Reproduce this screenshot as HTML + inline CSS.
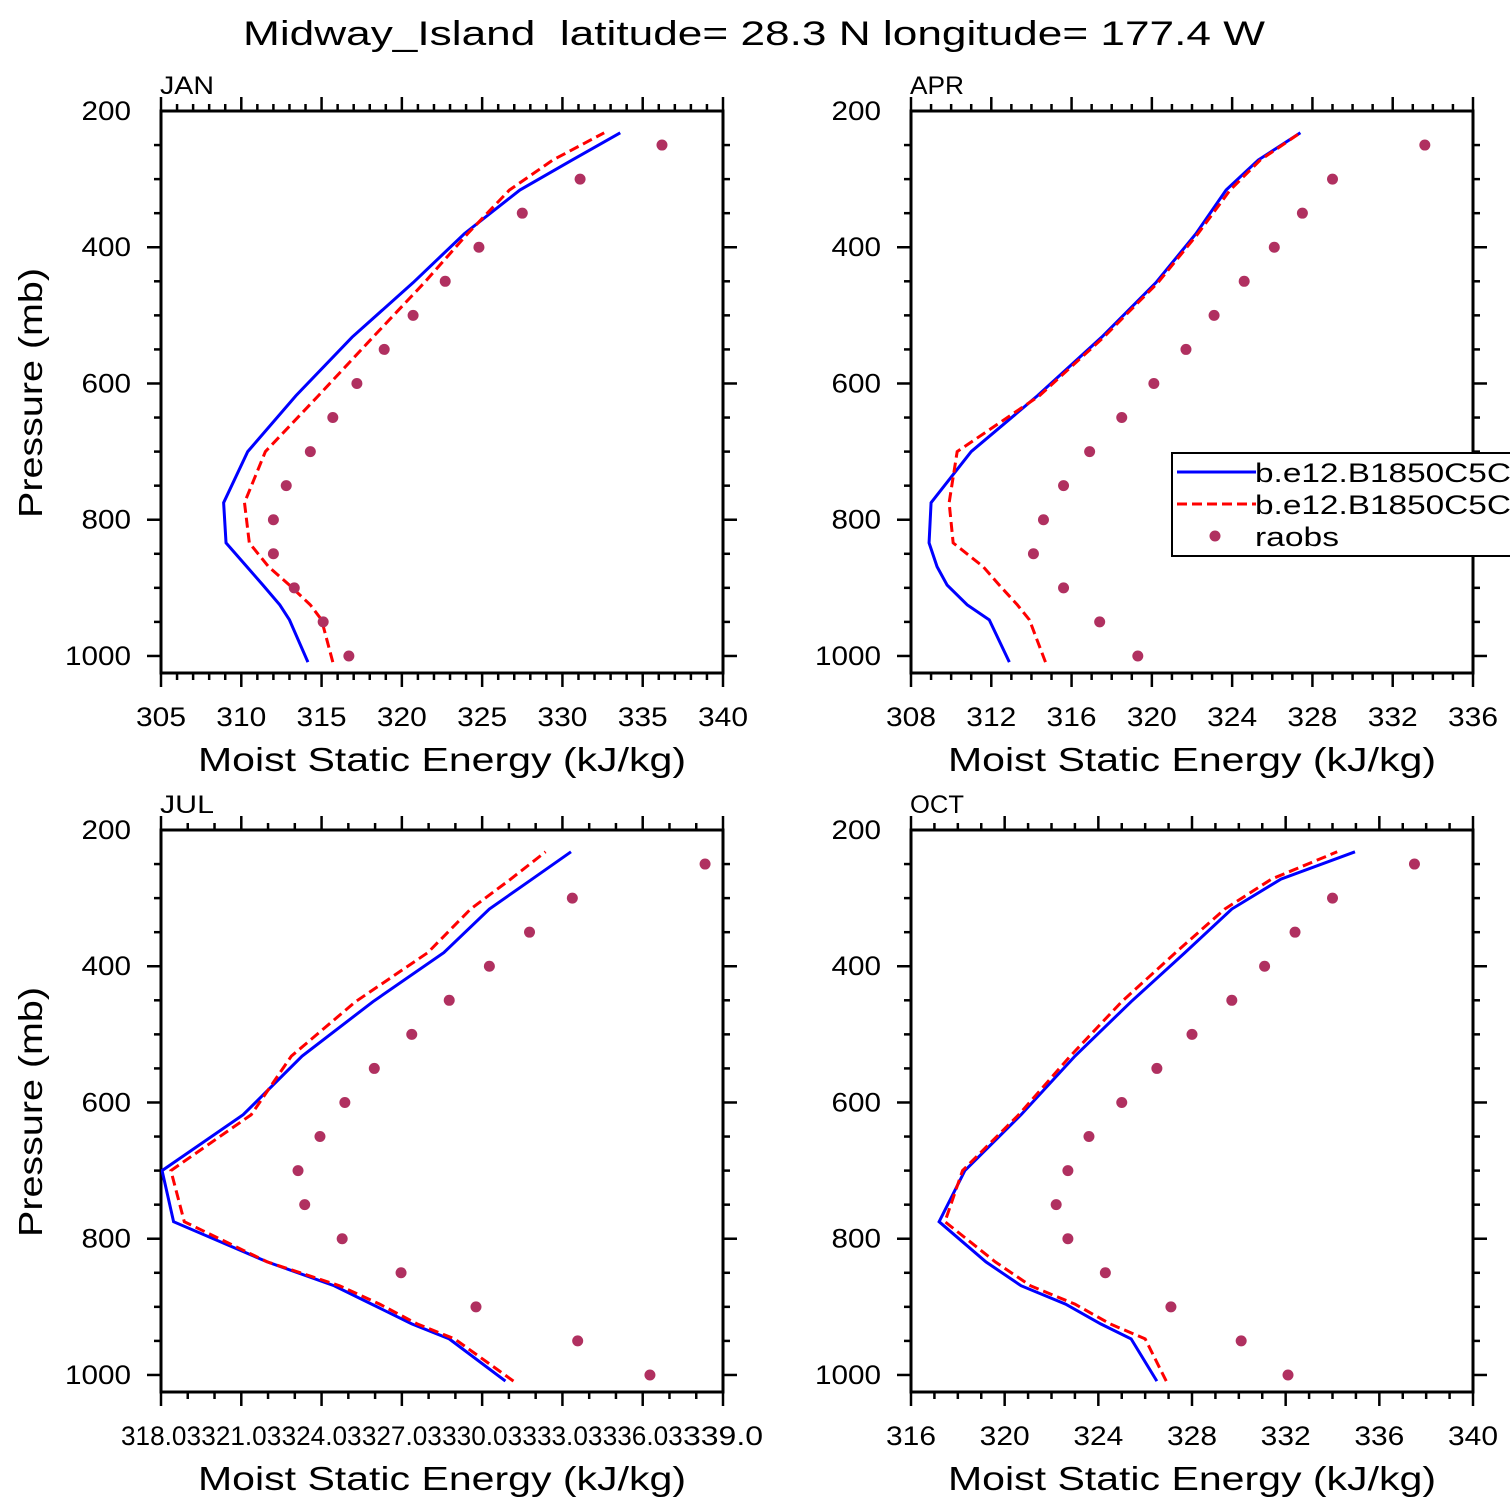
<!DOCTYPE html>
<html><head><meta charset="utf-8"><style>
html,body{margin:0;padding:0;background:#fff;}
svg{display:block;font-family:"Liberation Sans","DejaVu Sans",sans-serif;}
</style></head><body>
<svg id="chart" width="1510" height="1510" viewBox="0 0 1510 1510" xmlns="http://www.w3.org/2000/svg">
<text x="243" y="45" font-size="34" textLength="1022" lengthAdjust="spacingAndGlyphs" style="white-space:pre">Midway_Island  latitude= 28.3 N longitude= 177.4 W</text>
</svg>
<script>
// Model levels (mb)
const levels = [1009, 947, 925, 896, 869, 834, 775, 700, 618, 532, 452, 380, 316, 272, 232];
// Raob pressures (mb)
const raobP = [250, 300, 350, 400, 450, 500, 550, 600, 650, 700, 750, 800, 850, 900, 950, 1000];
const months = ["JAN", "APR", "JUL", "OCT"];
const janBlue = [314.15, 313.0, 312.4, 311.35, 310.35, 309.05, 308.9, 310.4, 313.4, 316.9, 320.7, 323.9, 327.35, 330.6, 333.6];
const janRed = [315.7, 315.0, 314.3, 313.0, 311.7, 310.5, 310.2, 311.5, 314.8, 318.2, 321.4, 324.1, 326.7, 329.4, 332.6];
const janRaob = [336.2, 331.1, 327.5, 324.8, 322.7, 320.7, 318.9, 317.2, 315.7, 314.3, 312.8, 312.0, 312.0, 313.3, 315.1, 316.7];
const aprBlue = [312.9, 311.9, 310.8, 309.8, 309.3, 308.9, 309.0, 311.0, 314.3, 317.5, 320.2, 322.2, 323.7, 325.3, 327.4];
const aprRed = [314.7, 313.9, 313.3, 312.4, 311.6, 310.1, 309.9, 310.3, 314.4, 317.6, 320.3, 322.3, 323.9, 325.4, 327.4];
const aprRaob = [333.6, 329.0, 327.5, 326.1, 324.6, 323.1, 321.7, 320.1, 318.5, 316.9, 315.6, 314.6, 314.1, 315.6, 317.4, 319.3];
const julBlue = [330.9, 328.8, 327.4, 325.9, 324.5, 322.0, 318.5, 318.07, 321.1, 323.3, 325.95, 328.6, 330.3, 331.9, 333.35];
const julRed = [331.2, 329.0, 327.6, 326.2, 324.7, 322.0, 318.9, 318.4, 321.4, 322.9, 325.3, 328.0, 329.6, 331.1, 332.4];
const julRaob = [338.36, 333.4, 331.8, 330.3, 328.8, 327.4, 326.0, 324.9, 323.97, 323.15, 323.4, 324.8, 327.0, 329.8, 333.6, 336.3];
const octBlue = [326.5, 325.4, 324.1, 322.6, 320.7, 319.2, 317.2, 318.3, 320.7, 323.0, 325.4, 327.7, 329.7, 331.8, 334.96];
const octRed = [326.9, 326.0, 324.5, 323.0, 321.1, 319.6, 317.45, 318.2, 320.6, 322.8, 325.0, 327.3, 329.4, 331.4, 334.2];
const octRaob = [337.5, 334.0, 332.4, 331.1, 329.7, 328.0, 326.5, 325.0, 323.6, 322.7, 322.2, 322.7, 324.3, 327.1, 330.1, 332.1];
const janTicks = ["305","310","315","320","325","330","335","340"];
const aprTicks = ["308","312","316","320","324","328","332","336"];
const julTicks = ["318.03","321.03","324.03","327.03","330.03","333.03","336.03","339.0"];
const octTicks = ["316","320","324","328","332","336","340"];
const pTicks = [200, 400, 600, 800, 1000];

const NS = "http://www.w3.org/2000/svg";
const svg = document.getElementById("chart");
function mk(tag, attrs, parent) {
  const e = document.createElementNS(NS, tag);
  for (const k in attrs) e.setAttribute(k, attrs[k]);
  (parent || svg).appendChild(e);
  return e;
}
const panels = [
  {m: "jan", x0: 161, y0: 111, xmin: 305, xmax: 340, major: 5, minor: 1, ticks: janTicks, blue: janBlue, red: janRed, raob: janRaob, lab: months[0], ylab: true},
  {m: "apr", x0: 911, y0: 111, xmin: 308, xmax: 336, major: 4, minor: 1, ticks: aprTicks, blue: aprBlue, red: aprRed, raob: aprRaob, lab: months[1], ylab: false},
  {m: "jul", x0: 161, y0: 830, xmin: 318.03, xmax: 339.03, major: 3, minor: 1, ticks: julTicks, blue: julBlue, red: julRed, raob: julRaob, lab: months[2], ylab: true},
  {m: "oct", x0: 911, y0: 830, xmin: 316, xmax: 340, major: 4, minor: 1, ticks: octTicks, blue: octBlue, red: octRed, raob: octRaob, lab: months[3], ylab: false}
];
const W = 562, H = 562, pmin = 200, pmax = 1025;
panels.forEach(P => {
  const g = mk("g", {});
  
  
  const xs = v => P.x0 + (v - P.xmin) / (P.xmax - P.xmin) * W;
  const ys = p => P.y0 + (p - pmin) / (pmax - pmin) * H;
  const clipId = "clip-" + P.m;
  const cp = mk("clipPath", {id: clipId}, g);
  mk("rect", {x: P.x0, y: P.y0, width: W, height: H}, cp);
  const tk = mk("g", {stroke: "#000", "stroke-width": 2.5}, g);
  
  
  for (let p = 250; p <= 1000; p += 50) {
    const y = ys(p), maj = p % 200 === 0;
    const L = maj ? 14 : 7;
    mk("line", {x1: P.x0 - L, x2: P.x0, y1: y, y2: y}, tk);
    mk("line", {x1: P.x0 + W, x2: P.x0 + W + L, y1: y, y2: y}, tk);
  }
  const n = Math.round((P.xmax - P.xmin) / P.minor);
  for (let i = 0; i <= n; i++) {
    const v = P.xmin + i * P.minor;
    const x = xs(v);
    const maj = i % Math.round(P.major / P.minor) === 0;
    const L = maj ? 14 : 7;
    mk("line", {x1: x, x2: x, y1: P.y0 + H, y2: P.y0 + H + L}, tk);
    mk("line", {x1: x, x2: x, y1: P.y0 - L, y2: P.y0}, tk);
  }
  const fr = mk("rect", {x: P.x0, y: P.y0, width: W, height: H, fill: "none", stroke: "#000", "stroke-width": 3}, g);
  
  
  P.ticks.forEach((t, i) => {
    const len = t.length >= 5 ? 80 : 50;
    const e = mk("text", {x: xs(P.xmin + i * P.major) - len / 2, y: P.y0 + H + 53, "font-size": 27, textLength: len, lengthAdjust: "spacingAndGlyphs"}, g);
    e.textContent = t;
    
    
  });
  pTicks.forEach(p => {
    const len = String(p).length * 16.5;
    const e = mk("text", {x: P.x0 - 30 - len, y: ys(p) + 9, "font-size": 27, textLength: len, lengthAdjust: "spacingAndGlyphs"}, g);
    e.textContent = p;
    
    
  });
  const xt = mk("text", {x: P.x0 + W / 2 - 244, y: P.y0 + H + 98, "font-size": 33, textLength: 488, lengthAdjust: "spacingAndGlyphs"}, g);
  xt.textContent = "Moist Static Energy (kJ/kg)";
  
  
  if (P.ylab) {
    const yt = mk("text", {x: -125, y: 0, "font-size": 33, textLength: 250, lengthAdjust: "spacingAndGlyphs", transform: `translate(42,${P.y0 + 282}) rotate(-90)`}, g);
    yt.textContent = "Pressure (mb)";
    
    
  }
  const ml = mk("text", {x: P.x0 - 1, y: P.y0 - 17, "font-size": 25, textLength: 54, lengthAdjust: "spacingAndGlyphs"}, g);
  ml.textContent = P.lab;
  
  
  const dg = mk("g", {"clip-path": `url(#${clipId})`}, g);
  const ptsB = levels.map((p, i) => xs(P.blue[i]) + "," + ys(p)).join(" ");
  const ptsR = levels.map((p, i) => xs(P.red[i]) + "," + ys(p)).join(" ");
  const lb = mk("polyline", {points: ptsB, fill: "none", stroke: "#0000ff", "stroke-width": 3}, dg);
  
  
  const lr = mk("polyline", {points: ptsR, fill: "none", stroke: "#ff0000", "stroke-width": 3, "stroke-dasharray": "10,5"}, dg);
  
  
  raobP.forEach((p, i) => {
    const c = mk("circle", {cx: xs(P.raob[i]), cy: ys(p), r: 5.5, fill: "#b03060"}, dg);
    
    
  });
});
const lg = mk("g", {});


mk("rect", {x: 1172, y: 453, width: 360, height: 103, fill: "#fff", stroke: "#000", "stroke-width": 2}, lg);
const l1 = mk("line", {x1: 1177, x2: 1256, y1: 472, y2: 472, stroke: "#0000ff", "stroke-width": 3}, lg);


const l2 = mk("line", {x1: 1177, x2: 1256, y1: 504, y2: 504, stroke: "#ff0000", "stroke-width": 3, "stroke-dasharray": "10,5"}, lg);


const l3 = mk("circle", {cx: 1215, cy: 536, r: 5.5, fill: "#b03060"}, lg);


[["b.e12.B1850C5CN", 482, 280], ["b.e12.B1850C5CN", 514, 280], ["raobs", 546, 84]].forEach(([t, y, len]) => {
  const e = mk("text", {x: 1255, y: y, "font-size": 27, textLength: len, lengthAdjust: "spacingAndGlyphs"}, lg);
  e.textContent = t;
  
  
});
</script>
</body></html>
